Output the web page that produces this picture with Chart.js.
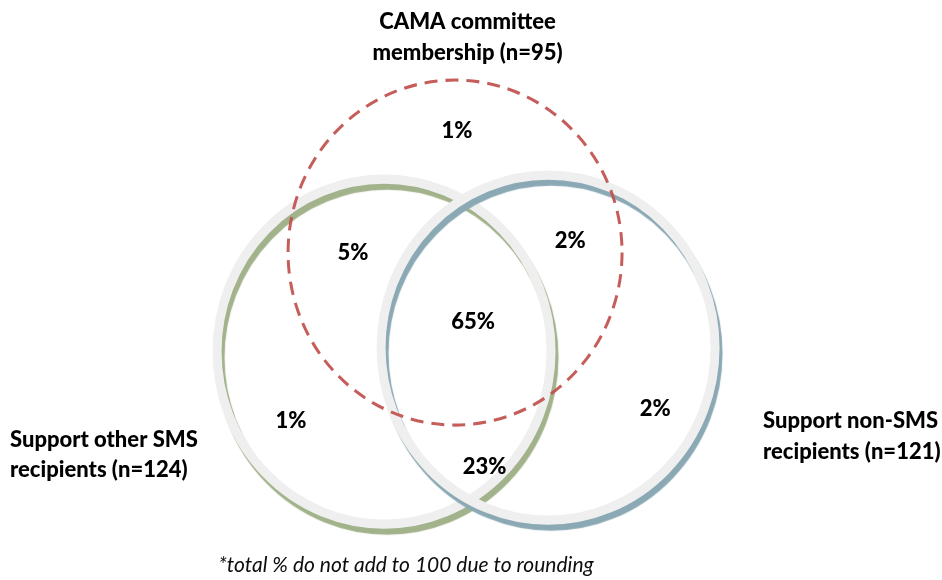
<!DOCTYPE html>
<html>
<head>
<meta charset="utf-8">
<script src="https://cdn.jsdelivr.net/npm/chart.js@4/dist/chart.umd.min.js"></script>
<style>
  html, body { margin: 0; padding: 0; background: #ffffff; }
  #wrap { width: 942px; height: 580px; }
</style>
</head>
<body>
<div id="wrap"><canvas id="venn" width="942" height="580"></canvas></div>
<script>
// ---- data -------------------------------------------------------------
// Three sets: name lines and membership counts
const setNames = [
  ['CAMA committee', 'membership'],
  ['Support other SMS', 'recipients'],
  ['Support non-SMS', 'recipients']
];
const setSizes = [95, 124, 121];

// Share of respondents in each region of the diagram (%)
const regionNames = ['CAMA only', 'CAMA + other SMS', 'CAMA + non-SMS', 'All three',
                     'Other SMS only', 'Non-SMS only', 'Other SMS + non-SMS'];
const regionValues = [1, 5, 2, 65, 1, 2, 23];

const footnote = '*total % do not add to 100 due to rounding';

// ---- layout (in circle-radius units) ----------------------------------
const circleX = [0, -0.425, 0.557];
const circleY = [0, -0.574, -0.551];
const circleR = [1, 1, 1];

const regionX = [0.012, -0.611, 0.689, 0.108, -0.982, 1.198, 0.177];
const regionY = [0.716, 0.009, 0.078, -0.391, -0.965, -0.896, -1.235];

// set caption anchors: x, first baseline y, second baseline y, alignment
const captionX = [0.075, -2.665, 1.844];
const captionY1 = [1.296, -1.128, -1.017];
const captionY2 = [1.116, -1.301, -1.197];
const captionAlign = ['center', 'left', 'left'];

const footnoteX = -0.293;
const footnoteY = -1.852;

// ---- styles -----------------------------------------------------------
const ringGrey = '#efefef';
const ringShade = ['#c0504d', '#a2b28b', '#8ba9b4'];
const labelFont = '900 22px "Lato", "Open Sans", sans-serif';
const noteFont = 'italic 21px "Lato", "Open Sans", sans-serif';

function radiusPx(c) {
  const xs = c.chart.scales.x;
  return Math.abs(xs.getPixelForValue(c.raw.r) - xs.getPixelForValue(0));
}

function ringDataset(i, style) {
  return Object.assign({
    label: setNames[i].join(' '),
    data: [{ x: circleX[i], y: circleY[i], r: circleR[i] }],
    pointRadius: radiusPx,
    pointHoverRadius: radiusPx,
    pointBackgroundColor: 'rgba(0,0,0,0)',
    clip: false,
    ring: true
  }, style);
}

const datasets = [
  { label: 'regions', order: 0, clip: false, pointRadius: 0,
    data: regionValues.map((v, i) => ({ x: regionX[i], y: regionY[i] })) },
  ringDataset(0, { order: 1, pointBorderColor: 'rgba(192,80,77,0.92)', pointBorderWidth: 3, dash: [13, 8] }),
  ringDataset(2, { order: 2, pointBorderColor: ringGrey, pointBorderWidth: 9, shade: ringShade[2] }),
  ringDataset(1, { order: 3, pointBorderColor: ringGrey, pointBorderWidth: 9, shade: ringShade[1] })
];

// Rings: stretch to the y-scale ratio, dash the committee ring,
// and give the two support rings a coloured offset edge.
const ringPlugin = {
  id: 'ringStyle',
  beforeDatasetDraw(chart, args) {
    const ds = chart.data.datasets[args.index];
    if (!ds.ring) return;
    const ctx = chart.ctx;
    const xs = chart.scales.x, ys = chart.scales.y;
    const kx = Math.abs(xs.getPixelForValue(1) - xs.getPixelForValue(0));
    const ky = Math.abs(ys.getPixelForValue(1) - ys.getPixelForValue(0));
    const pt = args.meta.data[0];
    ctx.save();
    ctx.translate(pt.x, pt.y);
    ctx.scale(1, ky / kx);
    ctx.translate(-pt.x, -pt.y);
    if (ds.dash) {
      ctx.setLineDash(ds.dash);
    }
    if (ds.shade) {
      ctx.shadowColor = ds.shade;
      ctx.shadowOffsetX = 3;
      ctx.shadowOffsetY = 6;
      ctx.shadowBlur = 1;
    }
  },
  afterDatasetDraw(chart, args) {
    const ds = chart.data.datasets[args.index];
    if (!ds.ring) return;
    chart.ctx.restore();
  }
};

// Text: region shares, set captions and the footnote
const textPlugin = {
  id: 'vennText',
  afterDatasetsDraw(chart) {
    const ctx = chart.ctx;
    const xs = chart.scales.x, ys = chart.scales.y;
    ctx.save();
    ctx.fillStyle = '#000000';
    ctx.font = labelFont;
    ctx.textAlign = 'center';
    ctx.textBaseline = 'alphabetic';
    const meta = chart.getDatasetMeta(0);
    regionValues.forEach((v, i) => {
      const el = meta.data[i];
      const txt = v + '%';
      const m = ctx.measureText(txt);
      ctx.fillText(txt, el.x, el.y + m.actualBoundingBoxAscent / 2);
    });
    setNames.forEach((name, i) => {
      ctx.textAlign = captionAlign[i];
      const x = xs.getPixelForValue(captionX[i]);
      ctx.fillText(name[0], x, ys.getPixelForValue(captionY1[i]));
      ctx.fillText(name[1] + ' (n=' + setSizes[i] + ')', x, ys.getPixelForValue(captionY2[i]));
    });
    ctx.font = noteFont;
    ctx.fillStyle = '#0d0d0d';
    ctx.textAlign = 'center';
    ctx.fillText(footnote, xs.getPixelForValue(footnoteX), ys.getPixelForValue(footnoteY));
    ctx.restore();
  }
};

new Chart(document.getElementById('venn'), {
  type: 'scatter',
  data: { datasets },
  options: {
    responsive: false,
    devicePixelRatio: 1,
    animation: false,
    events: [],
    layout: { padding: 0 },
    plugins: { legend: { display: false }, tooltip: { enabled: false } },
    scales: {
      x: { type: 'linear', display: false, min: -2.725, max: 2.916 },
      y: { type: 'linear', display: false, min: -1.898, max: 1.464 }
    }
  },
  plugins: [ringPlugin, textPlugin]
});
</script>
</body>
</html>
